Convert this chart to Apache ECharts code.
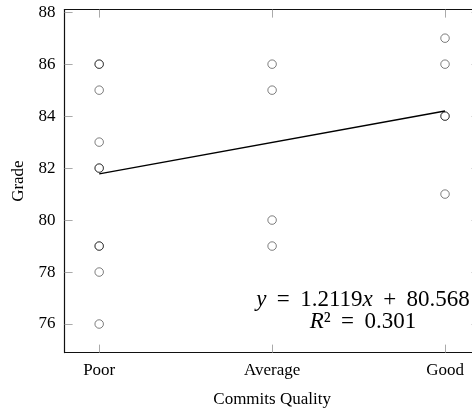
<!DOCTYPE html>
<html>
<head>
<meta charset="utf-8">
<script src="https://cdn.jsdelivr.net/npm/echarts@6/dist/echarts.min.js"></script>
<style>
html,body{margin:0;padding:0;background:#fff;}
#chart{width:472px;height:412px;}
</style>
</head>
<body>
<div id="chart"></div>
<script>
// Category labels and their positions on the x scale
const categories = ['Poor', 'Average', 'Good'];
const categoryPositions = [1, 2, 3];
// Grades per category (duplicates appear as darker circles)
const poorGrades = [86, 86, 85, 83, 82, 82, 79, 79, 78, 76];
const averageGrades = [86, 85, 80, 79];
const goodGrades = [87, 86, 84, 84, 81];
// Fitted trend line values at Poor and Good
const trendX = [1, 3];
const trendY = [81.78, 84.20];
// Y tick values
const yTicks = [76, 78, 80, 82, 84, 86, 88];
const SP = ' \u2009';
const eqLine1 = '{i|y}' + SP + '=' + SP + '1.2119{i|x}' + SP + '+' + SP + '80.568';
const eqLine2 = '{i|R}²' + SP + '=' + SP + '0.301';

const groups = [poorGrades, averageGrades, goodGrades];
const scatterData = [];
groups.forEach((g, i) => g.forEach(v => scatterData.push([categoryPositions[i], v])));
const trendData = trendX.map((x, i) => [x, trendY[i]]);

const FONT = '"Liberation Serif", "DejaVu Serif", serif';
const axisLine = {show: true, onZero: false, lineStyle: {color: '#111', width: 1.2}};
const tickStyle = {lineStyle: {color: '#aaa', width: 1}};

const chart = echarts.init(document.getElementById('chart'), null, {renderer: 'canvas'});
chart.setOption({
  animation: false,
  backgroundColor: '#fff',
  grid: {left: 64.6, right: -7.6, top: 9.6, bottom: 59.4, containLabel: false, outerBoundsMode: 'none'},
  xAxis: [{
    type: 'value', position: 'bottom', min: 0.8, max: 3.2,
    axisLine: axisLine,
    axisTick: Object.assign({show: true, inside: true, length: 8, customValues: categoryPositions}, tickStyle),
    axisLabel: {show: true, customValues: categoryPositions, margin: 9, color: '#000', fontFamily: FONT, fontSize: 17,
      formatter: v => categories[categoryPositions.indexOf(Math.round(v))] || ''},
    splitLine: {show: false},
    name: 'Commits Quality', nameLocation: 'middle', nameGap: 38,
    nameTextStyle: {color: '#000', fontFamily: FONT, fontSize: 17}
  }, {
    type: 'value', position: 'top', min: 0.8, max: 3.2,
    axisLine: axisLine,
    axisTick: Object.assign({show: true, inside: true, length: 8, customValues: categoryPositions}, tickStyle),
    axisLabel: {show: false}, splitLine: {show: false}
  }],
  yAxis: [{
    type: 'value', position: 'left', min: 74.9, max: 88.1,
    axisLine: axisLine,
    axisTick: Object.assign({show: true, inside: true, length: 8, customValues: yTicks}, tickStyle),
    axisLabel: {show: true, customValues: yTicks, margin: 9, color: '#000', fontFamily: FONT, fontSize: 17},
    splitLine: {show: false},
    name: 'Grade', nameLocation: 'middle', nameGap: 38, nameRotate: 90,
    nameTextStyle: {color: '#000', fontFamily: FONT, fontSize: 17}
  }, {
    type: 'value', position: 'right', min: 74.9, max: 88.1,
    axisLine: axisLine,
    axisTick: Object.assign({show: true, inside: true, length: 8, customValues: yTicks}, tickStyle),
    axisLabel: {show: false}, splitLine: {show: false}
  }],
  series: [{
    type: 'scatter', xAxisIndex: 0, yAxisIndex: 0,
    data: scatterData, symbol: 'circle', symbolSize: 8.5,
    itemStyle: {color: 'rgba(0,0,0,0)', borderColor: 'rgba(0,0,0,0.5)', borderWidth: 1, opacity: 1},
    emphasis: {disabled: true}, z: 2
  }, {
    type: 'line', xAxisIndex: 0, yAxisIndex: 0,
    data: trendData, symbol: 'none',
    lineStyle: {color: '#000', width: 1.4},
    emphasis: {disabled: true}, z: 3
  }],
  graphic: [{
    type: 'text', x: 363, y: 300, z: 10,
    style: {text: eqLine1, x: 0, y: 0, align: 'center', verticalAlign: 'middle',
      fill: '#000', font: '23px ' + FONT,
      rich: {i: {fontStyle: 'italic', fontFamily: FONT, fontSize: 23, fill: '#000'}}}
  }, {
    type: 'text', x: 363, y: 322, z: 10,
    style: {text: eqLine2, x: 0, y: 0, align: 'center', verticalAlign: 'middle',
      fill: '#000', font: '23px ' + FONT,
      rich: {i: {fontStyle: 'italic', fontFamily: FONT, fontSize: 23, fill: '#000'}}}
  }]
});
</script>
</body>
</html>
